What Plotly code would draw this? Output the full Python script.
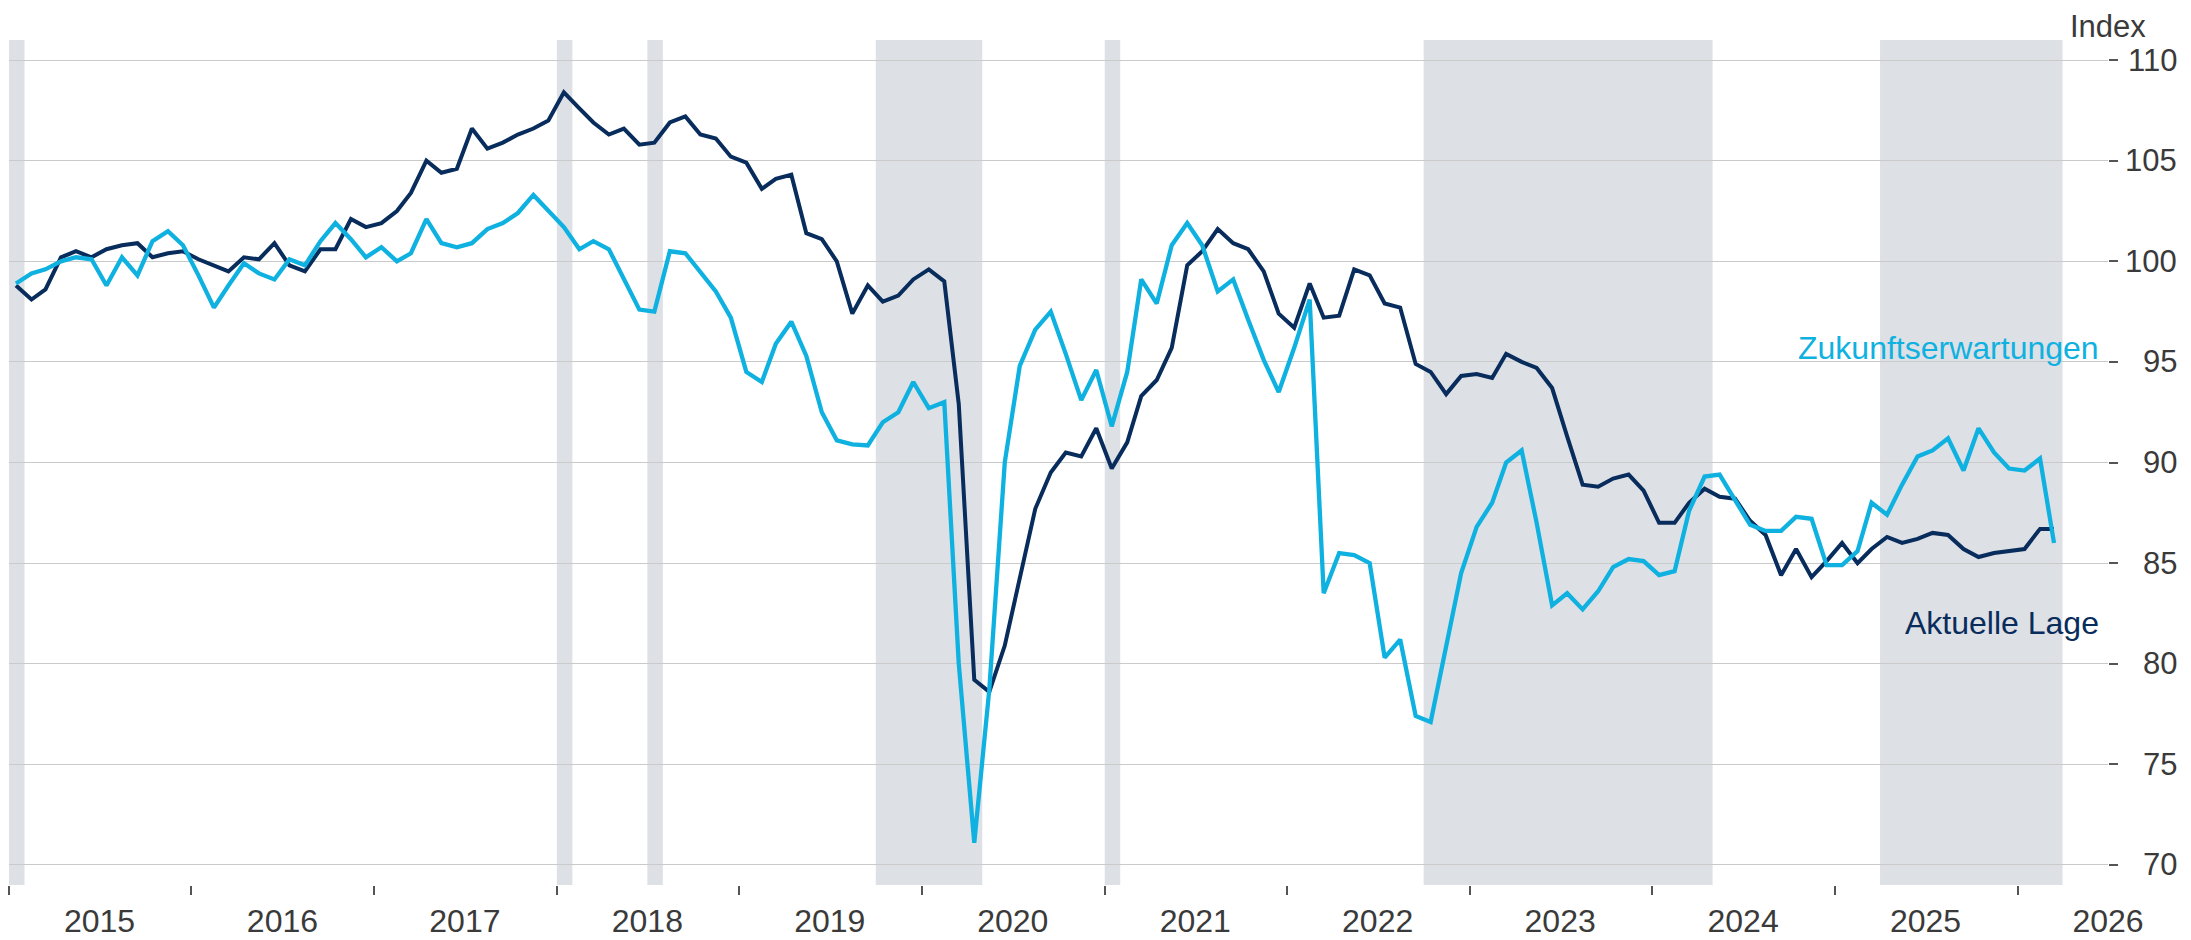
import pandas as pd
import plotly.graph_objects as go

# ---- data -------------------------------------------------------------
start_month = "2015-01-01"
n_months = 135

aktuelle_lage = [
    98.8, 98.1, 98.6, 100.2, 100.5, 100.2, 100.6, 100.8, 100.9, 100.2, 100.4, 100.5,
    100.1, 99.8, 99.5, 100.2, 100.1, 100.9, 99.8, 99.5, 100.6, 100.6, 102.1, 101.7,
    101.9, 102.5, 103.4, 105.0, 104.4, 104.6, 106.6, 105.6, 105.9, 106.3, 106.6, 107.0,
    108.4, 107.6, 106.9, 106.3, 106.6, 105.8, 105.9, 106.9, 107.2, 106.3, 106.1, 105.2,
    104.9, 103.6, 104.1, 104.3, 101.4, 101.1, 100.0, 97.4, 98.8, 98.0, 98.3, 99.1,
    99.6, 99.0, 92.9, 79.2, 78.6, 80.9, 84.3, 87.7, 89.5, 90.5, 90.3, 91.7,
    89.7, 91.0, 93.3, 94.1, 95.7, 99.8, 100.5, 101.6, 100.9, 100.6, 99.5, 97.4,
    96.7, 98.9, 97.2, 97.3, 99.6, 99.3, 97.9, 97.7, 94.9, 94.5, 93.4, 94.3,
    94.4, 94.2, 95.4, 95.0, 94.7, 93.7, 91.3, 88.9, 88.8, 89.2, 89.4, 88.6,
    87.0, 87.0, 88.0, 88.7, 88.3, 88.2, 87.1, 86.4, 84.4, 85.7, 84.3, 85.1,
    86.0, 85.0, 85.7, 86.3, 86.0, 86.2, 86.5, 86.4, 85.7, 85.3, 85.5, 85.6,
    85.7, 86.7, 86.7,
]

zukunftserwartungen = [
    98.9, 99.4, 99.6, 100.0, 100.2, 100.1, 98.8, 100.2, 99.3, 101.0, 101.5, 100.8,
    99.3, 97.7, 98.8, 99.9, 99.4, 99.1, 100.1, 99.8, 101.0, 101.9, 101.1, 100.2,
    100.7, 100.0, 100.4, 102.1, 100.9, 100.7, 100.9, 101.6, 101.9, 102.4, 103.3, 102.5,
    101.7, 100.6, 101.0, 100.6, 99.1, 97.6, 97.5, 100.5, 100.4, 99.5, 98.5, 97.2,
    94.5, 94.0, 95.9, 97.0, 95.3, 92.5, 91.1, 90.9, 90.85, 92.0, 92.5, 94.0,
    92.7, 93.0, 80.0, 71.1, 78.7, 90.0, 94.8, 96.6, 97.5, 95.4, 93.1, 94.6,
    91.8, 94.5, 99.1, 97.9, 100.8, 101.9, 100.8, 98.5, 99.1, 97.1, 95.1, 93.5,
    95.7, 98.1, 83.5, 85.5, 85.4, 85.0, 80.3, 81.2, 77.4, 77.1, 80.8, 84.5,
    86.8, 88.0, 90.0, 90.6, 87.0, 82.9, 83.5, 82.7, 83.6, 84.8, 85.2, 85.1,
    84.4, 84.6, 87.6, 89.3, 89.4, 88.1, 86.9, 86.6, 86.6, 87.3, 87.2, 84.9,
    84.9, 85.6, 88.0, 87.4, 88.9, 90.3, 90.6, 91.2, 89.6, 91.7, 90.5, 89.7,
    89.6, 90.2, 86.0,
]

# shaded periods (first month, last month)
band_starts = ["2015-01", "2018-01", "2018-07", "2019-10", "2021-01", "2022-10", "2025-04"]
band_ends   = ["2015-01", "2018-01", "2018-07", "2020-04", "2021-01", "2024-04", "2026-03"]

years = list(range(2015, 2027))
y_ticks = [70, 75, 80, 85, 90, 95, 100, 105, 110]

series_names = ["Aktuelle Lage", "Zukunftserwartungen"]

# ---- styling ----------------------------------------------------------
NAVY = "#082c5b"
LIGHT = "#0fb1e0"
BAND = "#dde0e5"
GRID = "#cacaca"
TEXT = "#3a3a3a"
FONT = "Liberation Sans, Arial, sans-serif"

month_starts = pd.date_range(start_month, periods=n_months, freq="MS")
month_mid = month_starts + pd.Timedelta(days=14)

fig = go.Figure()

for s, e in zip(band_starts, band_ends):
    x0 = pd.Timestamp(s + "-01")
    x1 = pd.Timestamp(e + "-01") + pd.offsets.MonthBegin(1)
    fig.add_shape(type="rect", xref="x", yref="paper", x0=x0, x1=x1, y0=0, y1=1,
                  fillcolor=BAND, line_width=0, layer="below")

fig.add_trace(go.Scatter(x=month_mid, y=aktuelle_lage, mode="lines",
                         name=series_names[0],
                         line=dict(color=NAVY, width=4.0), showlegend=False))
fig.add_trace(go.Scatter(x=month_mid, y=zukunftserwartungen, mode="lines",
                         name=series_names[1],
                         line=dict(color=LIGHT, width=4.3), showlegend=False))

x_range = [pd.Timestamp("2015-01-01"), pd.Timestamp("2026-07-01")]

fig.update_layout(
    width=2183, height=932,
    margin=dict(l=1, r=83, t=32, b=52),
    paper_bgcolor="white", plot_bgcolor="white",
    font=dict(family=FONT, size=32, color=TEXT),
    xaxis=dict(
        type="date", range=x_range,
        tickvals=[pd.Timestamp(f"{y}-07-01") for y in years],
        ticktext=[str(y) for y in years],
        ticks="", showgrid=False, zeroline=False, showline=False,
        tickfont=dict(size=32, color=TEXT),
        ticklabelstandoff=14,
        minor=dict(tickvals=[pd.Timestamp(f"{y}-01-01") for y in years],
                   ticks="outside", ticklen=9, tickcolor="#555555", tickwidth=1.5,
                   showgrid=False),
    ),
    yaxis=dict(
        side="right", range=[69, 111], tickvals=y_ticks,
        showticklabels=False, ticks="outside", ticklen=9,
        tickcolor="#555555", tickwidth=1.5,
        showgrid=True, gridcolor=GRID, gridwidth=1.1,
        zeroline=False, showline=False,
    ),
)

for v in y_ticks:
    fig.add_annotation(x=1.0337, xref="paper", y=v, yref="y", text=str(v),
                       showarrow=False, xanchor="right", yanchor="middle",
                       font=dict(size=31, color=TEXT, family=FONT))

fig.add_annotation(x=1.0185, xref="paper", y=1.0377, yref="paper", text="Index",
                   showarrow=False, xanchor="right", yanchor="top", borderpad=0,
                   font=dict(size=31, color=TEXT, family=FONT))

fig.add_annotation(x=0.9965, xref="paper", y=95.7, yref="y",
                   text=series_names[1], showarrow=False, xanchor="right",
                   yanchor="middle", font=dict(size=32, color=LIGHT, family=FONT))
fig.add_annotation(x=0.9965, xref="paper", y=82.0, yref="y",
                   text=series_names[0], showarrow=False, xanchor="right",
                   yanchor="middle", font=dict(size=32, color=NAVY, family=FONT))

fig.write_html("out.html")
